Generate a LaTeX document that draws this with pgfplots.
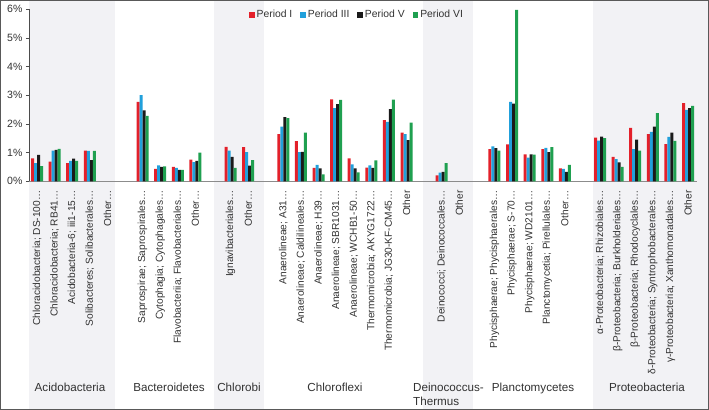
\documentclass[border=0pt]{standalone}
\usepackage{fontspec}
\setmainfont{Liberation Sans}
\usepackage{pgfplots}
\pgfplotsset{compat=1.18}
\definecolor{cI}{HTML}{E3202A}
\definecolor{cIII}{HTML}{21A0DB}
\definecolor{cV}{HTML}{1A1A1A}
\definecolor{cVI}{HTML}{1FA050}
\definecolor{band}{RGB}{242,242,245}
\definecolor{txt}{RGB}{50,50,50}
\pgfplotsset{sqleg/.style={legend image code/.code={\fill[##1, draw=none] (0bp,-2.8bp) rectangle (5.6bp,2.8bp);}}}
\begin{document}
\begin{tikzpicture}
\useasboundingbox (0,0) rectangle (709bp,-410bp);
% group background bands
\fill[band] (29bp,-1bp) rectangle (115bp,-409bp);
\fill[band] (214bp,-1bp) rectangle (264bp,-409bp);
\fill[band] (423bp,-1bp) rectangle (473bp,-409bp);
\fill[band] (593bp,-1bp) rectangle (708bp,-409bp);
\begin{axis}[
  at={(29bp,-181.3bp)}, anchor=south west,
  scale only axis, width=668bp, height=172bp,
  xmin=-0.455, xmax=37.51, ymin=0, ymax=6,
  axis x line*=bottom, axis y line*=left,
  x axis line style={draw=black!45, line width=1.5bp, -},
  y axis line style={draw=black!70, line width=0.8bp, -},
  ybar=0pt, bar width=3bp,
  clip=false,
  ytick={0,1,2,3,4,5,6},
  yticklabels={0\%,1\%,2\%,3\%,4\%,5\%,6\%},
  ytick style={draw=black!70, line width=0.6bp},
  ytick align=outside, major tick length=3bp,
  xtick style={draw=none},
  xtick={0,1,2,3,4,6,7,8,9,11,12,14,15,16,17,18,19,20,21,23,24,26,27,28,29,30,32,33,34,35,36,37},
  xticklabels={
    {Chloracidobacteria; DS-100…},{Chloracidobacteria; RB41…},{Acidobacteria-6; iii1-15…},{Solibacteres; Solibacterales…},{Other…},
    {Saprospirae; Saprospirales…},{Cytophagia; Cytophagales…},{Flavobacteriia; Flavobacteriales…},{Other…},
    {Ignavibacteriales…},{Other…},
    {Anaerolineae; A31…},{Anaerolineae; Caldilineales…},{Anaerolineae; H39…},{Anaerolineae; SBR1031…},{Anaerolineae; WCHB1-50…},{Thermomicrobia; AKYG1722…},{Thermomicrobia; JG30-KF-CM45…},{Other},
    {Deinococci; Deinococcales…},{Other},
    {Phycisphaerae; Phycisphaerales…},{Phycisphaerae; S-70…},{Phycisphaerae; WD2101…},{Planctomycetia; Pirellulales…},{Other…},
    {α-Proteobacteria; Rhizobiales…},{β-Proteobacteria; Burkholderiales…},{β-Proteobacteria; Rhodocyclales…},{δ-Proteobacteria; Syntrophobacterales…},{γ-Proteobacteria; Xanthomonadales…},{Other}},
  xticklabel style={yshift=-6bp, rotate=90, anchor=east, inner sep=0pt, font=\fontsize{10.2}{12}\selectfont, text=txt},
  yticklabel style={font=\fontsize{10.6}{12}\selectfont, text=txt},
  legend columns=-1,
  legend style={at={(axis description cs:0.491,0.967)}, anchor=center, draw=none, fill=none,
    font=\fontsize{10.4}{12}\selectfont, text=txt,
    /tikz/every even column/.append style={column sep=6bp}},
]
\addplot[fill=cI, draw=none, sqleg] coordinates {
(0,0.80) (1,0.69) (2,0.63) (3,1.07)
(6,2.77) (7,0.43) (8,0.50) (9,0.76)
(11,1.20) (12,1.19)
(14,1.65) (15,1.40) (16,0.47) (17,2.86) (18,0.80) (19,0.48) (20,2.13) (21,1.70)
(23,0.21)
(26,1.12) (27,1.29) (28,0.94) (29,1.12) (30,0.45)
(32,1.52) (33,0.85) (34,1.86) (35,1.65) (36,1.30) (37,2.73)};
\addlegendentry{Period I}
\addplot[fill=cIII, draw=none, sqleg] coordinates {
(0,0.63) (1,1.07) (2,0.71) (3,1.06)
(6,3.01) (7,0.56) (8,0.47) (9,0.67)
(11,1.07) (12,1.02)
(14,1.91) (15,1.02) (16,0.57) (17,2.55) (18,0.59) (19,0.56) (20,2.07) (21,1.65)
(23,0.30)
(26,1.22) (27,2.77) (28,0.83) (29,1.17) (30,0.43)
(32,1.42) (33,0.77) (34,1.12) (35,1.72) (36,1.55) (37,2.49)};
\addlegendentry{Period III}
\addplot[fill=cV, draw=none, sqleg] coordinates {
(0,0.92) (1,1.10) (2,0.79) (3,0.74)
(6,2.47) (7,0.50) (8,0.40) (9,0.71)
(11,0.85) (12,0.55)
(14,2.24) (15,1.03) (16,0.45) (17,2.69) (18,0.45) (19,0.47) (20,2.52) (21,1.44)
(23,0.33)
(26,1.16) (27,2.71) (28,0.94) (29,1.02) (30,0.33)
(32,1.56) (33,0.66) (34,1.45) (35,1.91) (36,1.70) (37,2.55)};
\addlegendentry{Period V}
\addplot[fill=cVI, draw=none, sqleg] coordinates {
(0,0.53) (1,1.13) (2,0.71) (3,1.06)
(6,2.28) (7,0.52) (8,0.40) (9,1.00)
(11,0.47) (12,0.74)
(14,2.20) (15,1.70) (16,0.24) (17,2.84) (18,0.31) (19,0.73) (20,2.85) (21,2.05)
(23,0.63)
(26,1.07) (27,5.98) (28,0.93) (29,1.19) (30,0.57)
(32,1.51) (33,0.50) (34,1.07) (35,2.38) (36,1.41) (37,2.63)};
\addlegendentry{Period VI}
\end{axis}
% group labels
\begin{scope}[every node/.style={font=\fontsize{11.7}{14}\selectfont, text=txt, inner sep=0pt}]
\node[anchor=base] at (70bp,-391bp) {Acidobacteria};
\node[anchor=base] at (169bp,-391bp) {Bacteroidetes};
\node[anchor=base] at (239bp,-391bp) {Chlorobi};
\node[anchor=base] at (335bp,-391bp) {Chloroflexi};
\node[anchor=base west] at (413bp,-391bp) {Deinococcus-};
\node[anchor=base west] at (413bp,-405bp) {Thermus};
\node[anchor=base] at (533bp,-391bp) {Planctomycetes};
\node[anchor=base] at (647bp,-391bp) {Proteobacteria};
\end{scope}
\draw[line width=1.2bp, black!65] (0.6bp,-0.6bp) rectangle (708.4bp,-409.4bp);
\end{tikzpicture}
\end{document}
